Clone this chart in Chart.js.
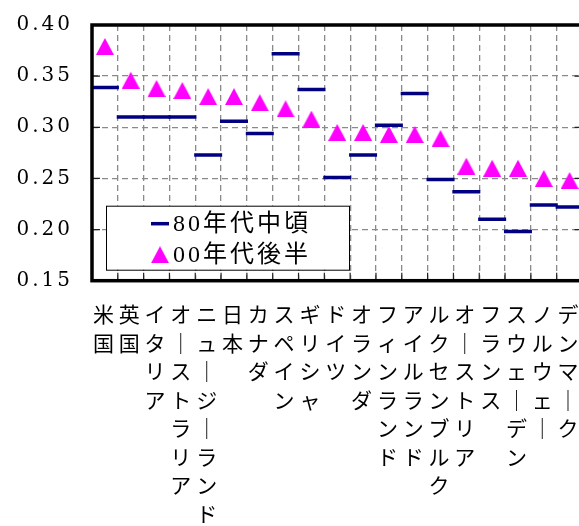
<!DOCTYPE html>
<html>
<head>
<meta charset="utf-8">
<script src="https://cdn.jsdelivr.net/npm/chart.js@4/dist/chart.umd.min.js"></script>
<style>
  html, body { margin: 0; padding: 0; overflow: hidden; background: #fff; }
  canvas { display: block; }
</style>
</head>
<body>
<canvas id="gini" width="600" height="526"></canvas>
<script>
// Gini coefficients by country: mid-1980s vs late 2000s
const countries = ['米国', '英国', 'イタリア', 'オーストラリア', 'ニュージーランド', '日本', 'カナダ',
  'スペイン', 'ギリシャ', 'ドイツ', 'オランダ', 'フィンランド', 'アイルランド', 'ルクセンブルク',
  'オーストリア', 'フランス', 'スウェーデン', 'ノルウェー', 'デンマーク'];
const mid80s = [0.339, 0.310, 0.310, 0.310, 0.273, 0.306, 0.294, 0.372, 0.337, 0.251,
  0.273, 0.302, 0.333, 0.249, 0.237, 0.210, 0.198, 0.224, 0.222];
const late00s = [0.379, 0.346, 0.338, 0.336, 0.330, 0.330, 0.324, 0.318, 0.308, 0.295,
  0.295, 0.293, 0.293, 0.289, 0.262, 0.260, 0.260, 0.250, 0.248];
const seriesNames = ['80年代中頃', '00年代後半'];
const yTicks = [0.15, 0.20, 0.25, 0.30, 0.35, 0.40];

const NAVY = '#000080';
const MAGENTA = '#ff00ff';
const SERIF = '"DejaVu Serif", "Noto Sans CJK JP", serif';

// Category names are written top-to-bottom, one character per line;
// the long vowel mark stands upright in vertical writing.
const verticalLabels = countries.map(n => Array.from(n).map(ch => ch === 'ー' ? '｜' : ch));

// Filled triangle marker centred on its bounding box
function triangleMarker(w, h, color) {
  const cv = document.createElement('canvas');
  cv.width = w; cv.height = h;
  const g = cv.getContext('2d');
  g.fillStyle = color;
  g.beginPath();
  g.moveTo(w / 2, 0);
  g.lineTo(w, h);
  g.lineTo(0, h);
  g.closePath();
  g.fill();
  return cv;
}
const tri = triangleMarker(18, 17, MAGENTA);

// Wider spacing for the axis numbers
const tickSpacing = {
  id: 'tickSpacing',
  beforeDraw(chart) { chart.ctx.letterSpacing = '3px'; },
  beforeDatasetsDraw(chart) { chart.ctx.letterSpacing = '0px'; }
};

// Legend drawn inside the plot, lower left, with a thin box
const boxLegend = {
  id: 'boxLegend',
  afterDatasetsDraw(chart) {
    const ctx = chart.ctx;
    const a = chart.chartArea;
    const left = a.left + 14, top = a.bottom - 75, w = 243, h = 64;
    ctx.save();
    ctx.fillStyle = '#fff';
    ctx.fillRect(left, top, w, h);
    ctx.strokeStyle = '#000';
    ctx.lineWidth = 1;
    ctx.strokeRect(left + 0.5, top + 0.5, w, h);
    const rows = [top + 18, top + 49];
    chart.data.datasets.forEach((ds, i) => {
      const mx = left + 54, my = rows[i];
      ctx.save();
      ctx.strokeStyle = ds.borderColor;
      ctx.fillStyle = ds.backgroundColor;
      ctx.lineWidth = 3.5;
      if (ds.pointStyle === 'line') {
        Chart.helpers.drawPoint(ctx, { pointStyle: 'line', radius: 9, borderWidth: 3.5, rotation: 0 }, mx, my);
      } else {
        Chart.helpers.drawPoint(ctx, { pointStyle: ds.pointStyle, radius: 9, borderWidth: 0, rotation: 0 }, mx, my);
      }
      ctx.restore();
      ctx.fillStyle = '#000';
      ctx.font = '24px "Liberation Serif", "Noto Sans CJK JP", serif';
      ctx.letterSpacing = '3px';
      ctx.textBaseline = 'middle';
      ctx.textAlign = 'left';
      ctx.fillText(ds.label, left + 67, my + 1);
      ctx.letterSpacing = '0px';
    });
    ctx.restore();
  }
};

// Heavy frame round the plot with short inward tick marks
const frame = {
  id: 'frame',
  afterDraw(chart) {
    const ctx = chart.ctx;
    const a = chart.chartArea;
    const xs = chart.scales.x, ys = chart.scales.y;
    ctx.save();
    ctx.strokeStyle = '#222';
    ctx.lineWidth = 1.2;
    ctx.beginPath();
    yTicks.forEach(v => {
      const y = ys.getPixelForValue(v);
      ctx.moveTo(a.left, y); ctx.lineTo(a.left + 8, y);
      ctx.moveTo(a.right - 8, y); ctx.lineTo(a.right, y);
    });
    for (let i = 1; i < countries.length; i++) {
      const x = (xs.getPixelForTick(i - 1) + xs.getPixelForTick(i)) / 2;
      ctx.moveTo(x, a.bottom); ctx.lineTo(x, a.bottom - 8);
    }
    ctx.stroke();
    ctx.strokeStyle = '#000';
    ctx.lineWidth = 3.5;
    ctx.strokeRect(a.left, a.top, a.right - a.left, a.bottom - a.top);
    ctx.restore();
  }
};

new Chart(document.getElementById('gini'), {
  type: 'line',
  data: {
    labels: verticalLabels,
    datasets: [
      {
        label: seriesNames[0],
        data: mid80s,
        showLine: false,
        pointStyle: 'line',
        pointRadius: 14,
        pointHoverRadius: 14,
        pointBorderWidth: 3.5,
        borderColor: NAVY,
        backgroundColor: NAVY
      },
      {
        label: seriesNames[1],
        data: late00s,
        showLine: false,
        pointStyle: tri,
        pointRadius: 9,
        pointHoverRadius: 9,
        borderColor: MAGENTA,
        backgroundColor: MAGENTA
      }
    ]
  },
  options: {
    responsive: false,
    animation: false,
    events: [],
    layout: { padding: { left: 0, top: 25, right: 12, bottom: 0 } },
    plugins: {
      legend: { display: false },
      tooltip: { enabled: false }
    },
    scales: {
      x: {
        type: 'category',
        offset: true,
        afterFit: s => { s.height = 245.3; },
        grid: {
          offset: true,
          color: '#8a8a8a',
          lineWidth: 1.3,
          drawTicks: false
        },
        border: { display: false, dash: [6, 4] },
        ticks: {
          autoSkip: false,
          maxRotation: 0,
          minRotation: 0,
          padding: 19,
          color: '#000',
          font: { family: '"Noto Sans CJK JP", sans-serif', size: 21, lineHeight: 1.36 }
        }
      },
      y: {
        min: 0.15,
        max: 0.40,
        afterFit: s => { s.width = 92; s.paddingTop = 0; s.paddingBottom = 0; },
        afterBuildTicks: s => { s.ticks = yTicks.map(v => ({ value: v })); },
        grid: {
          color: '#8a8a8a',
          lineWidth: 1.3,
          drawTicks: false
        },
        border: { display: false, dash: [6, 4] },
        ticks: {
          padding: 19,
          color: '#000',
          font: { family: SERIF, size: 20 },
          callback: v => Number(v).toFixed(2)
        }
      }
    }
  },
  plugins: [tickSpacing, boxLegend, frame]
});
</script>
</body>
</html>
